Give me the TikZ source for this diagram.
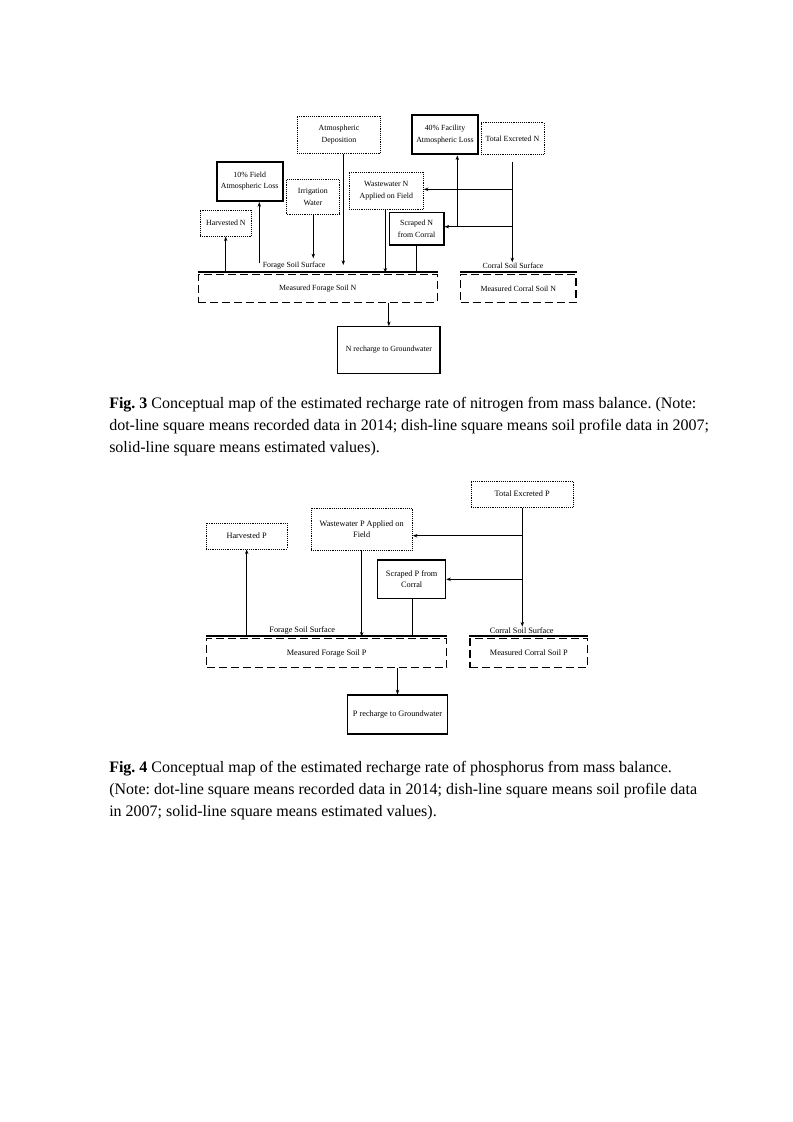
\documentclass[tikz,border=0pt]{standalone}
\usepackage{fontspec}
\setmainfont{Liberation Serif}
\usetikzlibrary{arrows.meta}
\frenchspacing
\begin{document}
\begin{tikzpicture}[x=0.75pt,y=-0.75pt,
 bx/.style={inner sep=0pt, align=center, anchor=center},
 dotbox/.style={bx, draw, line width=0.7pt, dash pattern=on 0.7pt off 0.7pt},
 solidbox/.style={bx, draw, line width=0.8pt},
 thickbox/.style={bx, draw, line width=1.6pt},
 dashbox/.style={bx, draw, line width=1.1pt, dash pattern=on 6pt off 3pt},
 conn/.style={line width=0.8pt},
 arr/.style={conn, -{Stealth[length=3.5pt,width=2.6pt]}},
 surf/.style={line width=1.6pt},
 fa/.style={font=\fontsize{5.9}{8.6}\selectfont},
 fb/.style={font=\fontsize{6.2}{8.4}\selectfont},
 lbl/.style={inner sep=0.5pt},
 capt/.style={anchor=north west, inner sep=0pt, align=left, font=\fontsize{12}{16.5}\selectfont},
]
\useasboundingbox (0,0) rectangle (793,1122);
\fill[white] (0,0) rectangle (793,1122);

% ---------------- Fig. 3 ----------------
\node[dotbox, fa, minimum width=62.55pt, minimum height=27.98pt] (atm) at (339,134.65) {Atmospheric\\Deposition};
\node[thickbox, fa, minimum width=49.5pt, minimum height=29.5pt] (field10) at (249.7,181.35) {10\% Field\\Atmospheric Loss};
\node[dotbox, fa, minimum width=39.2pt, minimum height=26.25pt] (irr) at (312.85,196.8) {Irrigation\\Water};
\node[dotbox, fa, minimum width=38.8pt, minimum height=19.5pt] (harvN) at (225.85,223) {Harvested N};
\node[dotbox, fa, minimum width=55.5pt, minimum height=28pt] (wwN) at (386.3,190.65) {Wastewater N\\Applied on Field};
\node[thickbox, fa, minimum width=49.95pt, minimum height=29.5pt] (fac40) at (445,134.65) {40\% Facility\\Atmospheric Loss};
\node[dotbox, fa, minimum width=47.25pt, minimum height=23.7pt] (excN) at (512.5,138.5) {Total Excreted N};
\node[solidbox, fa, minimum width=41pt, minimum height=24.2pt] (scrN) at (416.65,228.85) {Scraped N\\from Corral};
\node[dashbox, fa, minimum width=179.25pt, minimum height=20.85pt] (forN) at (317.8,288.4) {Measured Forage Soil N};
\node[dashbox, fa, minimum width=86.5pt, minimum height=20.85pt] (corN) at (518.35,288.4) {Measured Corral Soil N};
\node[solidbox, fa, minimum width=76.7pt, minimum height=34.95pt] (rechN) at (388.85,350) {N recharge to Groundwater};
\node[lbl, fa] (forLblN) at (294,266) {Forage Soil Surface};
\node[lbl, fa] (corLblN) at (513,266) {Corral Soil Surface};

\draw[surf] ([yshift=1.4pt]forN.north west) -- ([yshift=1.4pt]forN.north east);
\draw[surf] ([yshift=1.4pt]corN.north west) -- ([yshift=1.4pt]corN.north east);

\coordinate (exA) at (512.3,161.7);
\coordinate (j1) at (512.3,189.3);
\coordinate (j2) at (512.3,226.7);
\coordinate (j3) at (457.3,226.7);
\draw[arr] (exA) -- (exA |- corLblN.north);
\draw[arr] (j1) -- (j1 -| wwN.east);
\draw[arr] (j2) -- (j2 -| scrN.east);
\draw[arr] (j3) -- (j3 |- fac40.south);

\coordinate (sHarv) at (225.7,272.7);
\coordinate (sField) at (259.3,263.3);
\coordinate (sIrr) at (313.3,258.3);
\coordinate (sAtm) at (343.3,265);
\coordinate (sWw) at (385.3,272.7);
\coordinate (sScr) at (416.7,272.7);
\draw[arr] (sHarv) -- (sHarv |- harvN.south);
\draw[arr] (sField) -- (sField |- field10.south);
\draw[arr] (sIrr |- irr.south) -- (sIrr);
\draw[arr] (sAtm |- atm.south) -- (sAtm);
\draw[arr] (sWw |- wwN.south) -- (sWw);
\draw[conn] (sScr |- scrN.south) -- (sScr);
\draw[arr] (rechN.north |- forN.south) -- (rechN.north);

\node[capt] (cap3) at (109,397) {\textbf{Fig. 3} Conceptual map of the estimated recharge rate of nitrogen from mass balance. (Note:\\dot-line square means recorded data in 2014; dish-line square means soil profile data in 2007;\\solid-line square means estimated values).};

% ---------------- Fig. 4 ----------------
\node[dotbox, fb, minimum width=61pt, minimum height=19.3pt] (harvP) at (246.65,536.15) {Harvested P};
\node[dotbox, fb, minimum width=76pt, minimum height=31.3pt] (wwP) at (361.65,529.15) {Wastewater P Applied on\\Field};
\node[solidbox, fb, minimum width=51pt, minimum height=28.7pt] (scrP) at (411.7,579.15) {Scraped P from\\Corral};
\node[dotbox, fb, minimum width=76.7pt, minimum height=19.7pt] (excP) at (522.15,494.15) {Total Excreted P};
\node[dashbox, fb, minimum width=180pt, minimum height=21.9pt] (forP) at (326.7,653.1) {Measured Forage Soil P};
\node[dashbox, fb, minimum width=88.3pt, minimum height=21.9pt] (corP) at (528.85,653.1) {Measured Corral Soil P};
\node[solidbox, fb, minimum width=74.7pt, minimum height=29.25pt] (rechP) at (397.5,714.5) {P recharge to Groundwater};
\node[lbl, fb] (forLblP) at (302.3,630) {Forage Soil Surface};
\node[lbl, fb] (corLblP) at (521.7,630.5) {Corral Soil Surface};

\draw[surf] ([yshift=1.4pt]forP.north west) -- ([yshift=1.4pt]forP.north east);
\draw[surf] ([yshift=1.4pt]corP.north west) -- ([yshift=1.4pt]corP.north east);

\coordinate (k1) at (522.3,535.7);
\coordinate (k2) at (522.3,579.3);
\draw[arr] (k1 |- excP.south) -- (k1 |- corLblP.north);
\draw[arr] (k1) -- (k1 -| wwP.east);
\draw[arr] (k2) -- (k2 -| scrP.east);

\coordinate (q1) at (412.3,636.7);
\coordinate (q2) at (361.7,636.7);
\coordinate (q3) at (246.7,636.7);
\draw[conn] (q1 |- scrP.south) -- (q1);
\draw[arr] (q2 |- wwP.south) -- (q2);
\draw[arr] (q3) -- (q3 |- harvP.south);
\draw[arr] (rechP.north |- forP.south) -- (rechP.north);

\node[capt] (cap4) at (109,761) {\textbf{Fig. 4} Conceptual map of the estimated recharge rate of phosphorus from mass balance.\\(Note: dot-line square means recorded data in 2014; dish-line square means soil profile data\\in 2007; solid-line square means estimated values).};
\end{tikzpicture}
\end{document}
